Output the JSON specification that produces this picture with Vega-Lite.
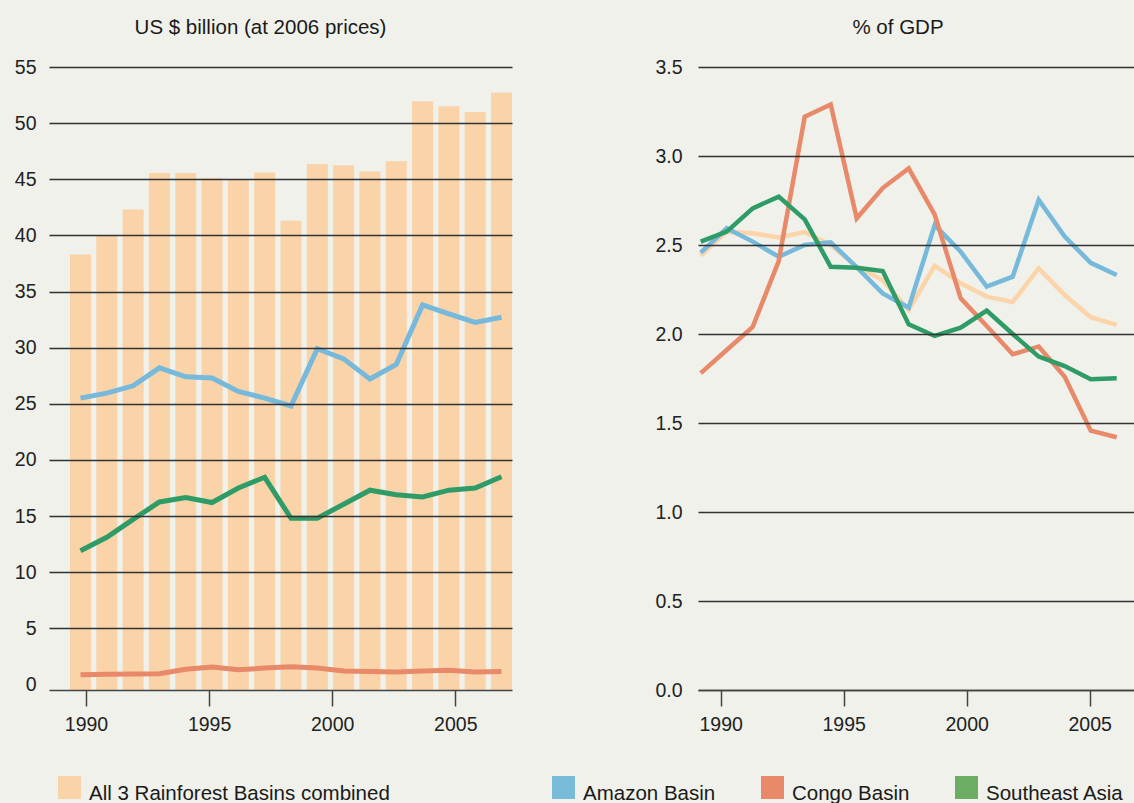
{
  "$schema": "https://vega.github.io/schema/vega-lite/v6.json",
  "background": "#eff1ea",
  "padding": {"left": 14, "top": 17, "right": 0, "bottom": 0},
  "autosize": {"type": "pad"},
  "bounds": "flush",
  "spacing": 186,
  "config": {
    "view": {"stroke": null},
    "font": "Liberation Sans",
    "axis": {"labelFont": "Liberation Sans", "labelFontSize": 19.5, "labelColor": "#222222", "gridColor": "#333333", "gridWidth": 1.3, "domainColor": "#444444", "domainWidth": 1.5, "tickColor": "#444444", "tickWidth": 1.5, "title": null},
    "title": {"font": "Liberation Sans", "fontSize": 20.5, "fontWeight": "normal", "color": "#1a1a1a", "frame": "group", "anchor": "middle", "offset": 19},
    "legend": {"orient": "none", "direction": "horizontal", "title": null, "symbolType": "square", "symbolSize": 529, "symbolStrokeWidth": 0, "symbolOpacity": 1, "labelFont": "Liberation Sans", "labelFontSize": 20.5, "labelColor": "#1a1a1a", "labelOffset": 8, "padding": 0, "columnPadding": 45, "labelLimit": 600}
  },
  "datasets": {
    "usd_total": [
      {"year": 1990, "series": "All 3 Rainforest Basins combined", "value": 38.3},
      {"year": 1991, "series": "All 3 Rainforest Basins combined", "value": 40.0},
      {"year": 1992, "series": "All 3 Rainforest Basins combined", "value": 42.3},
      {"year": 1993, "series": "All 3 Rainforest Basins combined", "value": 45.55},
      {"year": 1994, "series": "All 3 Rainforest Basins combined", "value": 45.55},
      {"year": 1995, "series": "All 3 Rainforest Basins combined", "value": 45.1},
      {"year": 1996, "series": "All 3 Rainforest Basins combined", "value": 45.0},
      {"year": 1997, "series": "All 3 Rainforest Basins combined", "value": 45.6},
      {"year": 1998, "series": "All 3 Rainforest Basins combined", "value": 41.3},
      {"year": 1999, "series": "All 3 Rainforest Basins combined", "value": 46.35},
      {"year": 2000, "series": "All 3 Rainforest Basins combined", "value": 46.25},
      {"year": 2001, "series": "All 3 Rainforest Basins combined", "value": 45.7},
      {"year": 2002, "series": "All 3 Rainforest Basins combined", "value": 46.6},
      {"year": 2003, "series": "All 3 Rainforest Basins combined", "value": 51.95},
      {"year": 2004, "series": "All 3 Rainforest Basins combined", "value": 51.5},
      {"year": 2005, "series": "All 3 Rainforest Basins combined", "value": 51.0},
      {"year": 2006, "series": "All 3 Rainforest Basins combined", "value": 52.7}
    ],
    "usd": [
      {"year": 1990, "series": "Amazon Basin", "value": 25.5},
      {"year": 1991, "series": "Amazon Basin", "value": 25.95},
      {"year": 1992, "series": "Amazon Basin", "value": 26.6},
      {"year": 1993, "series": "Amazon Basin", "value": 28.2},
      {"year": 1994, "series": "Amazon Basin", "value": 27.4},
      {"year": 1995, "series": "Amazon Basin", "value": 27.3},
      {"year": 1996, "series": "Amazon Basin", "value": 26.1},
      {"year": 1997, "series": "Amazon Basin", "value": 25.5},
      {"year": 1998, "series": "Amazon Basin", "value": 24.8},
      {"year": 1999, "series": "Amazon Basin", "value": 29.9},
      {"year": 2000, "series": "Amazon Basin", "value": 29.0},
      {"year": 2001, "series": "Amazon Basin", "value": 27.2},
      {"year": 2002, "series": "Amazon Basin", "value": 28.5},
      {"year": 2003, "series": "Amazon Basin", "value": 33.8},
      {"year": 2004, "series": "Amazon Basin", "value": 33.0},
      {"year": 2005, "series": "Amazon Basin", "value": 32.25},
      {"year": 2006, "series": "Amazon Basin", "value": 32.7},
      {"year": 1990, "series": "Congo Basin", "value": 0.85},
      {"year": 1991, "series": "Congo Basin", "value": 0.9},
      {"year": 1992, "series": "Congo Basin", "value": 0.92},
      {"year": 1993, "series": "Congo Basin", "value": 0.95},
      {"year": 1994, "series": "Congo Basin", "value": 1.35},
      {"year": 1995, "series": "Congo Basin", "value": 1.55},
      {"year": 1996, "series": "Congo Basin", "value": 1.3},
      {"year": 1997, "series": "Congo Basin", "value": 1.45},
      {"year": 1998, "series": "Congo Basin", "value": 1.58},
      {"year": 1999, "series": "Congo Basin", "value": 1.45},
      {"year": 2000, "series": "Congo Basin", "value": 1.2},
      {"year": 2001, "series": "Congo Basin", "value": 1.15},
      {"year": 2002, "series": "Congo Basin", "value": 1.1},
      {"year": 2003, "series": "Congo Basin", "value": 1.2},
      {"year": 2004, "series": "Congo Basin", "value": 1.25},
      {"year": 2005, "series": "Congo Basin", "value": 1.1},
      {"year": 2006, "series": "Congo Basin", "value": 1.15},
      {"year": 1990, "series": "Southeast Asia", "value": 11.9},
      {"year": 1991, "series": "Southeast Asia", "value": 13.1},
      {"year": 1992, "series": "Southeast Asia", "value": 14.7},
      {"year": 1993, "series": "Southeast Asia", "value": 16.25},
      {"year": 1994, "series": "Southeast Asia", "value": 16.65},
      {"year": 1995, "series": "Southeast Asia", "value": 16.2},
      {"year": 1996, "series": "Southeast Asia", "value": 17.5},
      {"year": 1997, "series": "Southeast Asia", "value": 18.45},
      {"year": 1998, "series": "Southeast Asia", "value": 14.8},
      {"year": 1999, "series": "Southeast Asia", "value": 14.8},
      {"year": 2000, "series": "Southeast Asia", "value": 16.05},
      {"year": 2001, "series": "Southeast Asia", "value": 17.3},
      {"year": 2002, "series": "Southeast Asia", "value": 16.9},
      {"year": 2003, "series": "Southeast Asia", "value": 16.7},
      {"year": 2004, "series": "Southeast Asia", "value": 17.3},
      {"year": 2005, "series": "Southeast Asia", "value": 17.5},
      {"year": 2006, "series": "Southeast Asia", "value": 18.5}
    ],
    "gdp": [
      {"year": 1990, "series": "All 3 Rainforest Basins combined", "value": 2.44},
      {"year": 1991, "series": "All 3 Rainforest Basins combined", "value": 2.575},
      {"year": 1992, "series": "All 3 Rainforest Basins combined", "value": 2.566},
      {"year": 1993, "series": "All 3 Rainforest Basins combined", "value": 2.543},
      {"year": 1994, "series": "All 3 Rainforest Basins combined", "value": 2.573},
      {"year": 1995, "series": "All 3 Rainforest Basins combined", "value": 2.5},
      {"year": 1996, "series": "All 3 Rainforest Basins combined", "value": 2.378},
      {"year": 1997, "series": "All 3 Rainforest Basins combined", "value": 2.303},
      {"year": 1998, "series": "All 3 Rainforest Basins combined", "value": 2.135},
      {"year": 1999, "series": "All 3 Rainforest Basins combined", "value": 2.384},
      {"year": 2000, "series": "All 3 Rainforest Basins combined", "value": 2.285},
      {"year": 2001, "series": "All 3 Rainforest Basins combined", "value": 2.21},
      {"year": 2002, "series": "All 3 Rainforest Basins combined", "value": 2.18},
      {"year": 2003, "series": "All 3 Rainforest Basins combined", "value": 2.369},
      {"year": 2004, "series": "All 3 Rainforest Basins combined", "value": 2.219},
      {"year": 2005, "series": "All 3 Rainforest Basins combined", "value": 2.094},
      {"year": 2006, "series": "All 3 Rainforest Basins combined", "value": 2.051},
      {"year": 1990, "series": "Amazon Basin", "value": 2.457},
      {"year": 1991, "series": "Amazon Basin", "value": 2.594},
      {"year": 1992, "series": "Amazon Basin", "value": 2.519},
      {"year": 1993, "series": "Amazon Basin", "value": 2.434},
      {"year": 1994, "series": "Amazon Basin", "value": 2.5},
      {"year": 1995, "series": "Amazon Basin", "value": 2.515},
      {"year": 1996, "series": "Amazon Basin", "value": 2.375},
      {"year": 1997, "series": "Amazon Basin", "value": 2.228},
      {"year": 1998, "series": "Amazon Basin", "value": 2.148},
      {"year": 1999, "series": "Amazon Basin", "value": 2.612},
      {"year": 2000, "series": "Amazon Basin", "value": 2.462},
      {"year": 2001, "series": "Amazon Basin", "value": 2.266},
      {"year": 2002, "series": "Amazon Basin", "value": 2.322},
      {"year": 2003, "series": "Amazon Basin", "value": 2.753},
      {"year": 2004, "series": "Amazon Basin", "value": 2.547},
      {"year": 2005, "series": "Amazon Basin", "value": 2.4},
      {"year": 2006, "series": "Amazon Basin", "value": 2.331},
      {"year": 1990, "series": "Congo Basin", "value": 1.78},
      {"year": 1991, "series": "Congo Basin", "value": 1.91},
      {"year": 1992, "series": "Congo Basin", "value": 2.04},
      {"year": 1993, "series": "Congo Basin", "value": 2.41},
      {"year": 1994, "series": "Congo Basin", "value": 3.22},
      {"year": 1995, "series": "Congo Basin", "value": 3.29},
      {"year": 1996, "series": "Congo Basin", "value": 2.65},
      {"year": 1997, "series": "Congo Basin", "value": 2.82},
      {"year": 1998, "series": "Congo Basin", "value": 2.93},
      {"year": 1999, "series": "Congo Basin", "value": 2.67},
      {"year": 2000, "series": "Congo Basin", "value": 2.2},
      {"year": 2001, "series": "Congo Basin", "value": 2.045},
      {"year": 2002, "series": "Congo Basin", "value": 1.886},
      {"year": 2003, "series": "Congo Basin", "value": 1.93},
      {"year": 2004, "series": "Congo Basin", "value": 1.76},
      {"year": 2005, "series": "Congo Basin", "value": 1.457},
      {"year": 2006, "series": "Congo Basin", "value": 1.42},
      {"year": 1990, "series": "Southeast Asia", "value": 2.519},
      {"year": 1991, "series": "Southeast Asia", "value": 2.575},
      {"year": 1992, "series": "Southeast Asia", "value": 2.706},
      {"year": 1993, "series": "Southeast Asia", "value": 2.772},
      {"year": 1994, "series": "Southeast Asia", "value": 2.644},
      {"year": 1995, "series": "Southeast Asia", "value": 2.378},
      {"year": 1996, "series": "Southeast Asia", "value": 2.372},
      {"year": 1997, "series": "Southeast Asia", "value": 2.354},
      {"year": 1998, "series": "Southeast Asia", "value": 2.054},
      {"year": 1999, "series": "Southeast Asia", "value": 1.989},
      {"year": 2000, "series": "Southeast Asia", "value": 2.036},
      {"year": 2001, "series": "Southeast Asia", "value": 2.131},
      {"year": 2002, "series": "Southeast Asia", "value": 2.0},
      {"year": 2003, "series": "Southeast Asia", "value": 1.873},
      {"year": 2004, "series": "Southeast Asia", "value": 1.82},
      {"year": 2005, "series": "Southeast Asia", "value": 1.746},
      {"year": 2006, "series": "Southeast Asia", "value": 1.751}
    ]
  },
  "hconcat": [
    {
      "width": 463,
      "height": 623,
      "title": {"text": "US $ billion (at 2006 prices)", "dx": -20},
      "layer": [
        {
          "data": {"name": "usd_total"},
          "mark": {"type": "bar", "size": 21, "zindex": 0},
          "encoding": {
            "x": {"field": "year", "type": "quantitative", "scale": {"domain": [1988.803, 2006.399], "nice": false, "zero": false, "padding": 0}, "axis": null},
            "y": {"field": "value", "type": "quantitative", "scale": {"domain": [-0.5, 55], "nice": false, "zero": false},
                  "axis": {"values": [0, 5, 10, 15, 20, 25, 30, 35, 40, 45, 50, 55], "domain": false, "ticks": false, "labelPadding": 13, "grid": true, "gridOpacity": {"condition": {"test": "datum.value === 0", "value": 0}, "value": 1}, "zindex": 1}},
            "y2": {"datum": -0.5},
            "fill": {"field": "series", "type": "nominal", "scale": {"domain": ["All 3 Rainforest Basins combined"], "range": ["#fad3a9"]},
                     "legend": {"legendX": 9, "legendY": 709, "encode": {"labels": {"update": {"dy": {"value": 6}}}}}}
          }
        },
        {
          "data": {"name": "usd"},
          "mark": {"type": "line", "strokeWidth": 5, "zindex": 2},
          "encoding": {
            "x": {"field": "year", "type": "quantitative", "scale": {"domain": [1988.803, 2006.399], "nice": false, "zero": false, "padding": 0}, "axis": null},
            "y": {"field": "value", "type": "quantitative"},
            "stroke": {"field": "series", "type": "nominal", "scale": {"domain": ["All 3 Rainforest Basins combined", "Amazon Basin", "Congo Basin", "Southeast Asia"], "range": ["#fcd4aa", "#77b9da", "#e8896a", "#2f9b67"]}, "legend": null}
          }
        },
        {
          "data": {"name": "usd_total"},
          "mark": {"type": "point", "opacity": 0},
          "encoding": {
            "x": {"field": "year", "type": "quantitative", "scale": {"domain": [1988.497, 2007.303], "nice": false, "zero": false, "padding": 0},
                  "axis": {"values": [1990, 1995, 2000, 2005], "format": "d", "grid": false, "tickSize": 16, "labelPadding": 9, "labelFlush": false, "zindex": 1}}
          }
        }
      ],
      "resolve": {"scale": {"x": "independent"}, "axis": {"x": "independent"}}
    },
    {
      "width": 436,
      "height": 623,
      "title": {"text": "% of GDP", "dx": -18},
      "layer": [
        {
          "data": {"name": "gdp"},
          "mark": {"type": "line", "strokeWidth": 4.5, "zindex": 2},
          "encoding": {
            "x": {"field": "year", "type": "quantitative", "scale": {"domain": [1989.896, 2006.665], "nice": false, "zero": false, "padding": 0}, "axis": null},
            "y": {"field": "value", "type": "quantitative", "scale": {"domain": [0, 3.5], "nice": false},
                  "axis": {"values": [0, 0.5, 1, 1.5, 2, 2.5, 3, 3.5], "format": ".1f", "domain": false, "ticks": false, "labelPadding": 16, "grid": true, "zindex": 1}},
            "stroke": {"field": "series", "type": "nominal", "scale": {"domain": ["All 3 Rainforest Basins combined", "Amazon Basin", "Congo Basin", "Southeast Asia"], "range": ["#fcd4aa", "#77b9da", "#e8896a", "#2f9b67"]}, "legend": null}
          }
        },
        {
          "data": {"name": "gdp"},
          "mark": {"type": "point", "opacity": 0},
          "encoding": {
            "x": {"field": "year", "type": "quantitative", "scale": {"domain": [1989.077, 2006.801], "nice": false, "zero": false, "padding": 0},
                  "axis": {"values": [1990, 1995, 2000, 2005], "format": "d", "grid": false, "tickSize": 16, "labelPadding": 9, "labelFlush": false, "zindex": 1}}
          }
        },
        {
          "data": {"name": "gdp"},
          "transform": [{"filter": "datum.series !== 'All 3 Rainforest Basins combined'"}],
          "mark": {"type": "point", "shape": "square", "filled": true, "opacity": 0},
          "encoding": {
            "fill": {"field": "series", "type": "nominal", "scale": {"domain": ["Amazon Basin", "Congo Basin", "Southeast Asia"], "range": ["#78bbd8", "#e8896a", "#6aad63"]},
                     "legend": {"legendX": -146, "legendY": 709, "encode": {"labels": {"update": {"dy": {"value": 6}}}}}}
          }
        }
      ],
      "resolve": {"scale": {"x": "independent"}, "axis": {"x": "independent"}}
    }
  ],
  "resolve": {"scale": {"fill": "independent", "stroke": "independent"}, "legend": {"fill": "independent"}}
}
